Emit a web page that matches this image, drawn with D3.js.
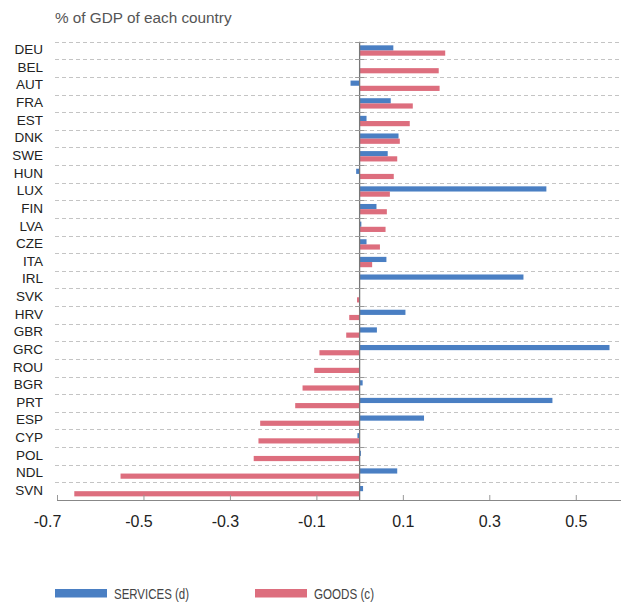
<!DOCTYPE html>
<html>
<head>
<meta charset="utf-8">
<script src="https://cdn.jsdelivr.net/npm/d3@7"></script>
<style>
  body { margin: 0; background: #fff; }
  svg { display: block; font-family: "Liberation Sans", Arial, Helvetica, sans-serif; }
</style>
</head>
<body>
<svg width="621" height="603"></svg>
<script>
var countries = ["DEU", "BEL", "AUT", "FRA", "EST", "DNK", "SWE", "HUN", "LUX", "FIN", "LVA", "CZE", "ITA",
                 "IRL", "SVK", "HRV", "GBR", "GRC", "ROU", "BGR", "PRT", "ESP", "CYP", "POL", "NDL", "SVN"];
var services = [0.078, 0, -0.021, 0.072, 0.016, 0.090, 0.065, -0.008, 0.432, 0.039, 0.004, 0.016, 0.062,
                0.379, 0, 0.106, 0.040, 0.578, 0, 0.007, 0.446, 0.149, -0.005, 0.003, 0.087, 0.008];
var goods = [0.198, 0.183, 0.185, 0.123, 0.116, 0.093, 0.087, 0.079, 0.070, 0.063, 0.060, 0.047, 0.029,
             0, -0.006, -0.024, -0.031, -0.093, -0.105, -0.132, -0.149, -0.230, -0.234, -0.245, -0.553, -0.660];
var seriesNames = ["SERVICES (d)", "GOODS (c)"];
var seriesColors = ["#4a7fc3", "#dd6e7e"];
var tickValues = [-0.7, -0.5, -0.3, -0.1, 0.1, 0.3, 0.5];

var svg = d3.select("svg"),
    width = +svg.attr("width"),
    height = +svg.attr("height");

var x = d3.scaleLinear().domain([-0.7, 0.6]).range([57, 619]);
var y0 = d3.scaleBand().domain(countries).range([41.7, 500]);
var y1 = d3.scaleBand().domain([0, 1]).range([0, y0.bandwidth()]).paddingOuter(0.7);

var rows = countries.map(function(c, i) {
  return {country: c, vals: [services[i], goods[i]]};
});

// title
svg.append("text")
    .attr("x", 55).attr("y", 23)
    .attr("font-size", 15.3)
    .attr("fill", "#555")
    .text("% of GDP of each country");

// dashed grid lines at the top of each band
svg.append("g")
  .selectAll("line")
  .data(countries)
  .enter().append("line")
    .attr("x1", 55).attr("x2", width)
    .attr("y1", function(d) { return Math.round(y0(d)) + 0.5; })
    .attr("y2", function(d) { return Math.round(y0(d)) + 0.5; })
    .attr("stroke", "#c4c4c4")
    .attr("stroke-dasharray", "4,3");

// country labels
svg.append("g")
  .selectAll("text")
  .data(countries)
  .enter().append("text")
    .attr("x", 43)
    .attr("y", function(d) { return y0(d) + y0.bandwidth() / 2 - 1; })
    .attr("dy", "0.35em")
    .attr("text-anchor", "end")
    .attr("font-size", 13.5)
    .attr("fill", "#222")
    .text(function(d) { return d; });

// bars
var group = svg.append("g")
  .selectAll("g")
  .data(rows)
  .enter().append("g")
    .attr("transform", function(d) { return "translate(0," + y0(d.country) + ")"; });

group.selectAll("rect")
  .data(function(d) { return d.vals; })
  .enter().append("rect")
    .attr("x", function(d) { return x(Math.min(0, d)); })
    .attr("width", function(d) { return Math.abs(x(d) - x(0)); })
    .attr("y", function(d, i) { return y1(i); })
    .attr("height", y1.bandwidth())
    .attr("fill", function(d, i) { return seriesColors[i]; });

// zero line with small ticks at band edges
svg.append("line")
    .attr("x1", x(0)).attr("x2", x(0))
    .attr("y1", y0(countries[0])).attr("y2", 500)
    .attr("stroke", "#777").attr("stroke-width", 1.3);

svg.append("g")
  .selectAll("line")
  .data(countries)
  .enter().append("line")
    .attr("x1", x(0) - 4.5).attr("x2", x(0) + 4.5)
    .attr("y1", function(d) { return Math.round(y0(d)) + 0.5; })
    .attr("y2", function(d) { return Math.round(y0(d)) + 0.5; })
    .attr("stroke", "#999");

// bottom axis
var xAxis = d3.axisBottom(x)
    .tickValues(tickValues)
    .tickFormat(function(d) { return d3.format(".1f")(d).replace("\u2212", "-"); })
    .tickSizeInner(-5)
    .tickSizeOuter(0)
    .tickPadding(16);

var gx = svg.append("g")
    .attr("transform", "translate(0,500)")
    .call(xAxis);

gx.select(".domain").attr("stroke", "#888").attr("d", "M" + x(-0.7) + ",0.5H" + width);
gx.selectAll(".tick line").attr("stroke", "#999");
gx.selectAll(".tick text")
    .attr("font-size", 16)
    .attr("fill", "#222")
    .attr("font-family", "Liberation Sans, Arial, sans-serif")
    .attr("dx", function(d) { return d < 0 ? (d === -0.7 ? -10 : -5) : 0; });

// legend (condensed text, squeezed to the original widths)
var legendWidths = [75, 60];
var legend = svg.append("g")
  .selectAll("g")
  .data(seriesNames)
  .enter().append("g")
    .attr("transform", function(d, i) { return "translate(" + (55 + i * 200) + ",589)"; });

legend.append("rect")
    .attr("width", 52).attr("height", 8.5)
    .attr("fill", function(d, i) { return seriesColors[i]; });

legend.append("text")
    .attr("x", 59).attr("y", 4.5)
    .attr("dy", "0.35em")
    .attr("font-size", 14.5)
    .attr("fill", "#444")
    .attr("textLength", function(d, i) { return legendWidths[i]; })
    .attr("lengthAdjust", "spacingAndGlyphs")
    .text(function(d) { return d; });
</script>
</body>
</html>
